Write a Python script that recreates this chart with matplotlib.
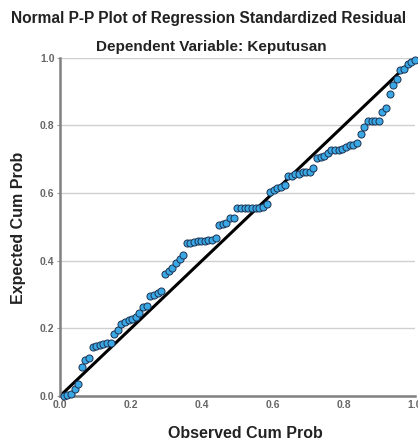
import matplotlib
matplotlib.use("Agg")
import matplotlib.pyplot as plt

plt.rcParams['font.family'] = ['Liberation Sans', 'DejaVu Sans']

title = "Normal P-P Plot of Regression Standardized Residual"
subtitle = "Dependent Variable: Keputusan"
xlabel = "Observed Cum Prob"
ylabel = "Expected Cum Prob"
tick_vals = [0.0, 0.2, 0.4, 0.6, 0.8, 1.0]
tick_labels = ["0.0", "0.2", "0.4", "0.6", "0.8", "1.0"]

observed = [0.010, 0.020, 0.031, 0.041, 0.051, 0.061, 0.071, 0.082, 0.092, 0.102,
            0.112, 0.122, 0.133, 0.143, 0.153, 0.163, 0.173, 0.184, 0.194, 0.204,
            0.214, 0.224, 0.235, 0.245, 0.255, 0.265, 0.276, 0.286, 0.296, 0.306,
            0.316, 0.327, 0.337, 0.347, 0.357, 0.367, 0.378, 0.388, 0.398, 0.408,
            0.418, 0.429, 0.439, 0.449, 0.459, 0.469, 0.480, 0.490, 0.500, 0.510,
            0.520, 0.531, 0.541, 0.551, 0.561, 0.571, 0.582, 0.592, 0.602, 0.612,
            0.622, 0.633, 0.643, 0.653, 0.663, 0.673, 0.684, 0.694, 0.704, 0.714,
            0.724, 0.735, 0.745, 0.755, 0.765, 0.776, 0.786, 0.796, 0.806, 0.816,
            0.827, 0.837, 0.847, 0.857, 0.867, 0.878, 0.888, 0.898, 0.908, 0.918,
            0.929, 0.939, 0.949, 0.959, 0.969, 0.980, 0.990, 1.000]

expected = [0.000, 0.002, 0.006, 0.020, 0.035, 0.085, 0.106, 0.113, 0.144, 0.149,
            0.151, 0.154, 0.156, 0.156, 0.183, 0.195, 0.212, 0.218, 0.225, 0.227,
            0.234, 0.246, 0.262, 0.266, 0.296, 0.300, 0.306, 0.311, 0.360, 0.370,
            0.377, 0.392, 0.405, 0.417, 0.451, 0.453, 0.455, 0.457, 0.458, 0.459,
            0.460, 0.462, 0.466, 0.505, 0.508, 0.512, 0.525, 0.527, 0.556, 0.556,
            0.556, 0.556, 0.556, 0.556, 0.556, 0.558, 0.569, 0.604, 0.610, 0.615,
            0.618, 0.625, 0.650, 0.650, 0.656, 0.656, 0.661, 0.661, 0.661, 0.675,
            0.705, 0.707, 0.709, 0.719, 0.727, 0.727, 0.727, 0.729, 0.736, 0.741,
            0.743, 0.748, 0.776, 0.796, 0.812, 0.813, 0.813, 0.813, 0.840, 0.852,
            0.894, 0.919, 0.938, 0.965, 0.966, 0.981, 0.988, 0.994]

fig = plt.figure(figsize=(4.18, 4.41), dpi=100)
ax = fig.add_axes([0.1435, 0.102, 0.849, 0.767])

ax.set_xlim(0, 1)
ax.set_ylim(0, 1)
ax.set_yticks(tick_vals)
ax.set_yticklabels(tick_labels, fontweight='bold')
ax.set_xticks(tick_vals)
ax.set_xticklabels(tick_labels, fontweight='bold')
ax.yaxis.grid(True, color='#d0d0d0', linewidth=1.0)
ax.set_axisbelow(True)

for s in ['top', 'right']:
    ax.spines[s].set_visible(False)
ax.spines['left'].set_color('#808080')
ax.spines['left'].set_linewidth(1.8)
ax.spines['bottom'].set_color('#808080')
ax.spines['bottom'].set_linewidth(1.8)
ax.tick_params(axis='y', colors='#999999', labelcolor='#666666', labelsize=7.5,
               length=2, width=0.8, pad=2)
ax.tick_params(axis='x', colors='#999999', labelcolor='#666666', labelsize=7.5,
               length=0, width=0.8, pad=3)

ax.plot([0, 1], [0, 1], color='black', linewidth=2.2, zorder=2)
ax.scatter(observed, expected, s=26, facecolor='#3ba8e6', edgecolor='#1c3150',
           linewidth=0.7, zorder=3, clip_on=False)

fig.text(0.500, 0.958, title, ha='center', va='center', fontsize=11.2,
         fontweight='bold', color='#222222')
fig.text(0.505, 0.893, subtitle, ha='center', va='center', fontsize=11,
         fontweight='bold', color='#222222')
fig.text(0.588, 0.018, xlabel, ha='center', va='center', fontsize=11.5,
         fontweight='bold', color='#222222')
fig.text(0.045, 0.484, ylabel, ha='center', va='center', rotation=90, fontsize=11.5,
         fontweight='bold', color='#222222')

fig.savefig('out.png', dpi=100)
